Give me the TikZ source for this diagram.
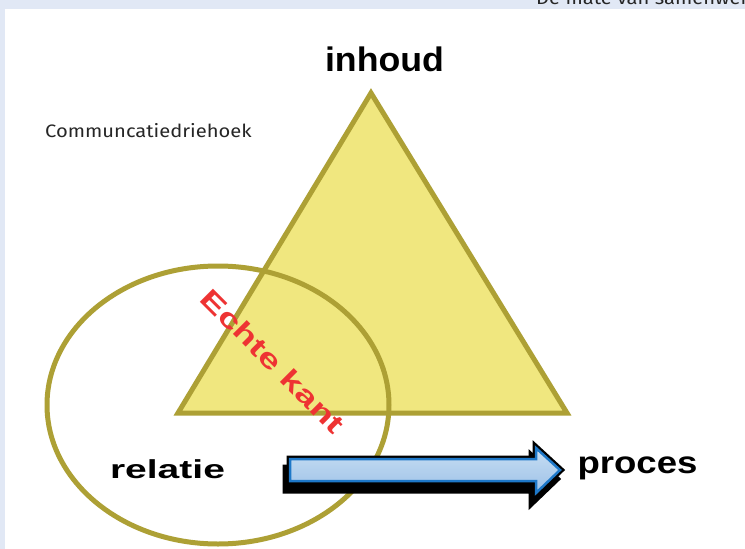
\documentclass[tikz,border=0pt]{standalone}
\usepackage{fontspec}
\setmainfont{Liberation Sans}
\newfontfamily\uifont{Fira Sans}
\usetikzlibrary{shapes.geometric}
\definecolor{bgblue}{HTML}{E1E8F5}
\definecolor{olive}{HTML}{ADA035}
\definecolor{triyellow}{HTML}{F0E77F}
\definecolor{arrowtop}{HTML}{C8DEF3}
\definecolor{arrowbot}{HTML}{9CC1E7}
\definecolor{arrowedge}{HTML}{1E78C8}
\definecolor{redtext}{HTML}{EE3333}
\tikzset{
  bigbold/.style={font=\bfseries\fontsize{#1}{#1}\selectfont, inner sep=0pt, text=black},
  uitext/.style={font=\uifont\fontsize{18}{21}\selectfont, inner sep=0pt, text=black!85, xscale=1.12},
  oline/.style={draw=olive, line width=5pt}
}
\begin{document}
\begin{tikzpicture}[x=1pt,y=-1pt]
\useasboundingbox (0,0) rectangle (745,549);
\clip (0,0) rectangle (745,549);
\fill[bgblue] (0,0) rectangle (745,549);
\fill[white] (5,9) rectangle (745,549);
\node[uitext, anchor=base west] (top) at (536,4) {De mate van samenwerking};
\node[uitext, anchor=base west] (title) at (45,137) {Communcatiedriehoek};
% triangle
\coordinate (apex) at (371,93);
\coordinate (bl) at (178,413);
\coordinate (br) at (567,413);
\filldraw[oline, fill=triyellow, line join=miter] (apex) -- (br) -- (bl) -- cycle;
% ellipse
\coordinate (ec) at (218,405);
\draw[oline] (ec) ellipse [x radius=171, y radius=139];
% red text
\node[font=\bfseries\fontsize{27}{27}\selectfont, text=redtext, inner sep=0pt, rotate=-45, xscale=1.4] (kant) at (273,361) {Echte kant};
% arrow
\fill[black] [shift={(-4,9)}] (290,459) -- (536,459) -- (536,448) -- (560,470) -- (536,493) -- (536,481) -- (290,481) -- cycle;
\draw[black, line width=7pt, line join=miter] [shift={(-4,9)}] (290,459) -- (536,459) -- (536,448) -- (560,470) -- (536,493) -- (536,481) -- (290,481) -- cycle;
\draw[black, line width=7pt, line join=miter] (290,459) -- (536,459) -- (536,448) -- (560,470) -- (536,493) -- (536,481) -- (290,481) -- cycle;
\shade[top color=arrowtop, bottom color=arrowbot] (290,459) -- (536,459) -- (536,448) -- (560,470) -- (536,493) -- (536,481) -- (290,481) -- cycle;
\draw[arrowedge, line width=2.5pt, line join=miter] (290,459) -- (536,459) -- (536,448) -- (560,470) -- (536,493) -- (536,481) -- (290,481) -- cycle;
% labels
\node[bigbold=34, anchor=base, xscale=1.05] (inhoud) at (384.5,71) {inhoud};
\node[bigbold=26, anchor=base, xscale=1.5] (relatie) at (167.5,478) {relatie};
\node[bigbold=31, anchor=base, xscale=1.18] (proces) at (637.5,473) {proces};
\end{tikzpicture}
\end{document}
